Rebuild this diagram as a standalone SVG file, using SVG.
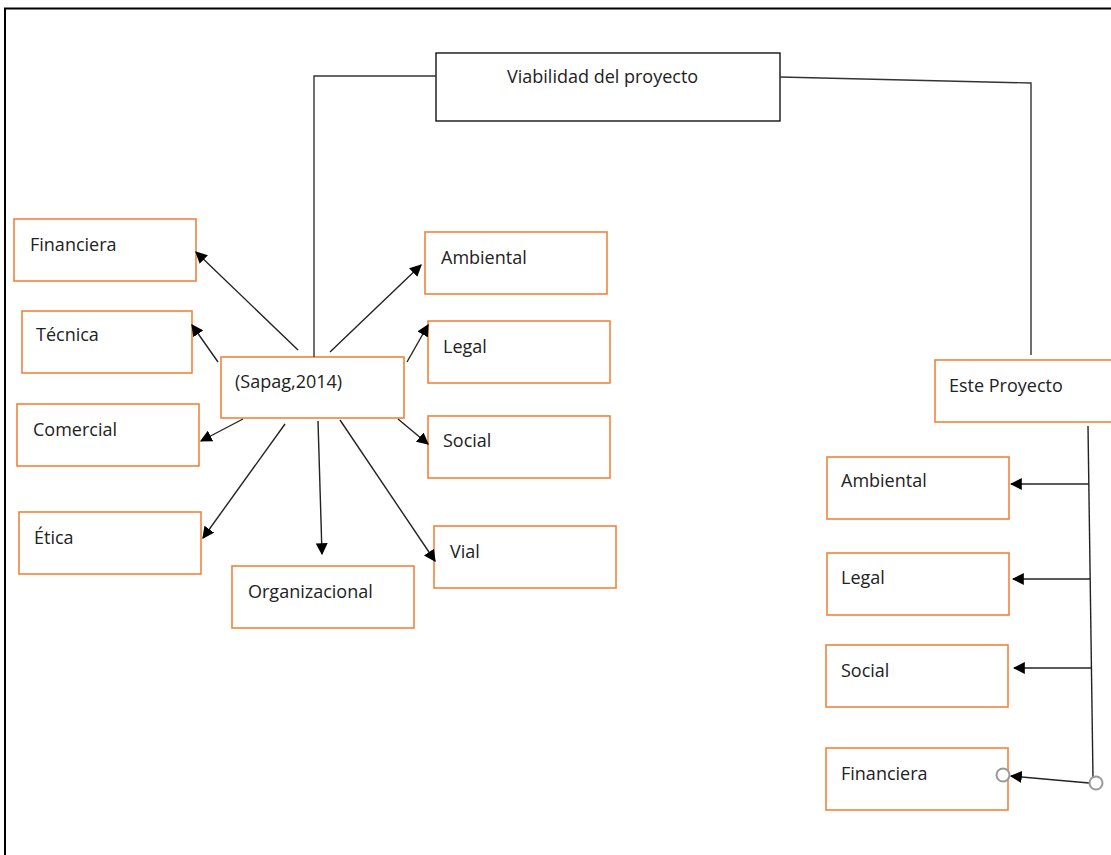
<svg xmlns="http://www.w3.org/2000/svg" width="1111" height="855" viewBox="0 0 1111 855">
<defs>
<style>
.box{fill:#fff;stroke:#F0843C;stroke-width:1.6}
.main{fill:#fff;stroke:#000;stroke-width:1.3}
.t{font-family:"Open Sans","Noto Sans",sans-serif;font-size:18px;fill:#222}
.c{fill:none;stroke:#222;stroke-width:1.4}
.p{fill:none;stroke:#333;stroke-width:1.4}
.o{fill:#fff;stroke:#999;stroke-width:2}
</style>
<marker id="ah" viewBox="0 0 10 10" refX="9" refY="5" markerWidth="12" markerHeight="12" markerUnits="userSpaceOnUse" orient="auto"><path d="M0,0L10,5L0,10z" fill="#000"/></marker>
</defs>
<rect x="0" y="0" width="1111" height="855" fill="#fff"/>
<path d="M5,855V8.5H1111" fill="none" stroke="#000" stroke-width="2"/>
<g id="viabilidad"><rect class="main" x="436" y="53" width="344" height="68"/><text class="t" x="507" y="83">Viabilidad del proyecto</text></g>
<g id="sapag"><rect class="box" x="221" y="357" width="183" height="61"/><text class="t" x="235" y="388">(Sapag,2014)</text></g>
<g id="financiera"><rect class="box" x="14" y="219" width="182" height="62"/><text class="t" x="30" y="251">Financiera</text></g>
<g id="tecnica"><rect class="box" x="22" y="311" width="170" height="62"/><text class="t" x="36" y="341">Técnica</text></g>
<g id="comercial"><rect class="box" x="17" y="404" width="182" height="62"/><text class="t" x="33" y="436">Comercial</text></g>
<g id="etica"><rect class="box" x="19" y="512" width="182" height="62"/><text class="t" x="34" y="544">Ética</text></g>
<g id="organizacional"><rect class="box" x="232" y="566" width="182" height="62"/><text class="t" x="248" y="598">Organizacional</text></g>
<g id="ambiental"><rect class="box" x="425" y="232" width="182" height="62"/><text class="t" x="441" y="264">Ambiental</text></g>
<g id="legal"><rect class="box" x="428" y="321" width="182" height="62"/><text class="t" x="443" y="353">Legal</text></g>
<g id="social"><rect class="box" x="428" y="416" width="182" height="62"/><text class="t" x="443" y="447">Social</text></g>
<g id="vial"><rect class="box" x="434" y="526" width="182" height="62"/><text class="t" x="450" y="558">Vial</text></g>
<g id="este-proyecto"><rect class="box" x="935" y="360" width="180" height="62"/><text class="t" x="949" y="392">Este Proyecto</text></g>
<g id="r-ambiental"><rect class="box" x="827" y="457" width="182" height="62"/><text class="t" x="841" y="487">Ambiental</text></g>
<g id="r-legal"><rect class="box" x="827" y="553" width="182" height="62"/><text class="t" x="841" y="584">Legal</text></g>
<g id="r-social"><rect class="box" x="826" y="645" width="182" height="62"/><text class="t" x="841" y="677">Social</text></g>
<g id="r-financiera"><rect class="box" x="826" y="748" width="182" height="62"/><text class="t" x="841" y="780">Financiera</text></g>
<g id="connectors">
<path class="p" d="M436,76H314V357"/>
<path class="p" d="M780,77L1031,83V355"/>
<path class="c" marker-end="url(#ah)" d="M298,350L196,252"/>
<path class="c" marker-end="url(#ah)" d="M218,362L192,325"/>
<path class="c" marker-end="url(#ah)" d="M243,419L201,441"/>
<path class="c" marker-end="url(#ah)" d="M285,424L203,538"/>
<path class="c" marker-end="url(#ah)" d="M318,421L322,554"/>
<path class="c" marker-end="url(#ah)" d="M340,420L435,561"/>
<path class="c" marker-end="url(#ah)" d="M398,419L428,444"/>
<path class="c" marker-end="url(#ah)" d="M407,362L428,325"/>
<path class="c" marker-end="url(#ah)" d="M330,352L421,265"/>
<path class="c" d="M1088,426L1093,778"/>
<path class="c" marker-end="url(#ah)" d="M1089,484H1011"/>
<path class="c" marker-end="url(#ah)" d="M1090,579H1013"/>
<path class="c" marker-end="url(#ah)" d="M1092,668H1014"/>
<path class="c" marker-end="url(#ah)" d="M1089,783L1011,776"/>
<circle class="o" cx="1096" cy="783" r="6.5"/>
<circle class="o" cx="1003" cy="775" r="6.5"/>
</g>
</svg>
